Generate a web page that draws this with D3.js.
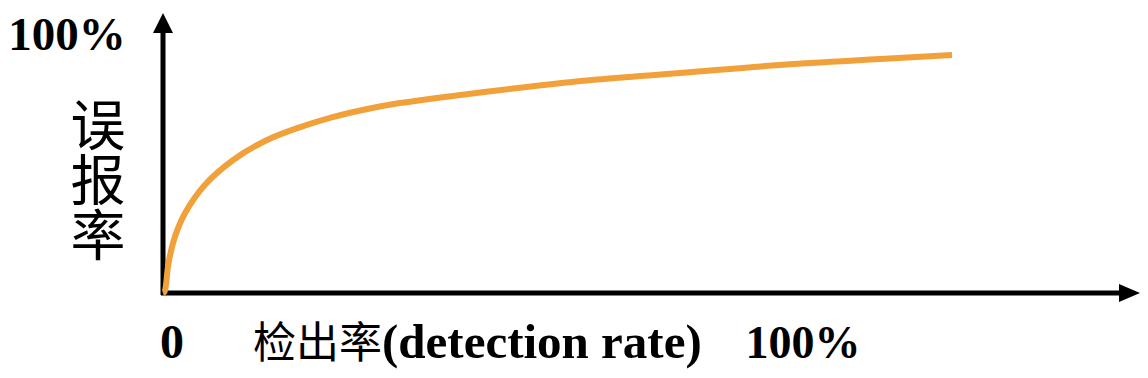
<!DOCTYPE html>
<html>
<head>
<meta charset="utf-8">
<script src="https://cdn.jsdelivr.net/npm/d3@7"></script>
<style>
	body { margin: 0; background: #fff; }
	svg { display: block; }
</style>
</head>
<body>
<svg width="1148" height="378"></svg>
<script>
// detection rate (%) vs false alarm rate (%)
let detection = [0, 0.2, 0.7, 1.5, 2.8, 5.3, 8.9, 13.2, 17.4, 21.5, 25.9, 30.0, 34.2, 44.4, 55.0, 65.5, 78.2, 90.9, 100]
let falseAlarm = [0, 0.5, 12.6, 23.5, 33.6, 45.4, 55.9, 64.3, 69.7, 73.9, 77.3, 79.8, 81.7, 85.9, 89.7, 92.4, 95.8, 98.3, 100]

let yTopLabel = '100%'
let yTitle = '误报率'
let xZeroLabel = '0'
let xTitleCn = '检出率'
let xTitleEn = '(detection rate)'
let xEndLabel = '100%'

let config = {
	originX: 163,
	originY: 293,
	xEnd: 952,
	yEnd: 55,
	color: '#f1a03a',
	serif: '"Liberation Serif", "Times New Roman", serif',
	cjk: '"Noto Sans CJK SC", sans-serif',
}

let svg = d3.select('svg')

let xScale = d3.scaleLinear().domain([0, 100]).range([config.originX, config.xEnd])
let yScale = d3.scaleLinear().domain([0, 100]).range([config.originY, config.yEnd])

function drawAxes() {
	let g = svg.append('g').attr('id', 'axes')

	// y axis with arrow
	g.append('line')
		.attr('x1', config.originX).attr('y1', config.originY + 2)
		.attr('x2', config.originX).attr('y2', 30)
		.attr('stroke', '#000').attr('stroke-width', 5)
	g.append('path')
		.attr('d', `M${config.originX},13 L${config.originX - 10},33 L${config.originX + 10},33 Z`)
		.attr('fill', '#000')

	// x axis with arrow
	g.append('line')
		.attr('x1', config.originX - 2).attr('y1', config.originY)
		.attr('x2', 1122).attr('y2', config.originY)
		.attr('stroke', '#000').attr('stroke-width', 5)
	g.append('path')
		.attr('d', `M1140,${config.originY} L1119,${config.originY - 9} L1119,${config.originY + 9} Z`)
		.attr('fill', '#000')
}

function drawCurve() {
	let points = detection.map((d, i) => [d, falseAlarm[i]])
	let line = d3.line()
		.x(d => xScale(d[0]))
		.y(d => yScale(d[1]))
		.curve(d3.curveCatmullRom.alpha(0.5))

	svg.append('path')
		.datum(points)
		.attr('d', line)
		.attr('fill', 'none')
		.attr('stroke', config.color)
		.attr('stroke-width', 6)
}

function drawLabels() {
	svg.append('text')
		.attr('x', 67).attr('y', 50)
		.attr('text-anchor', 'middle')
		.attr('font-family', config.serif)
		.attr('font-weight', 'bold')
		.attr('font-size', 47)
		.text(yTopLabel)

	// vertical title, one character under the other
	svg.append('text')
		.attr('x', 98).attr('y', 97)
		.attr('writing-mode', 'vertical-rl')
		.attr('font-family', config.cjk)
		.attr('font-size', 55)
		.text(yTitle)

	svg.append('text')
		.attr('x', 172).attr('y', 358)
		.attr('text-anchor', 'middle')
		.attr('font-family', config.serif)
		.attr('font-weight', 'bold')
		.attr('font-size', 48)
		.text(xZeroLabel)

	let title = svg.append('text')
		.attr('x', 253).attr('y', 358)
		.attr('font-size', 49)
	title.append('tspan')
		.attr('font-family', config.cjk)
		.attr('font-size', 43)
		.text(xTitleCn)
	title.append('tspan')
		.attr('font-family', config.serif)
		.attr('font-weight', 'bold')
		.text(xTitleEn)

	svg.append('text')
		.attr('x', 803).attr('y', 358)
		.attr('text-anchor', 'middle')
		.attr('font-family', config.serif)
		.attr('font-weight', 'bold')
		.attr('font-size', 46)
		.text(xEndLabel)
}

drawAxes()
drawCurve()
drawLabels()
</script>
</body>
</html>
